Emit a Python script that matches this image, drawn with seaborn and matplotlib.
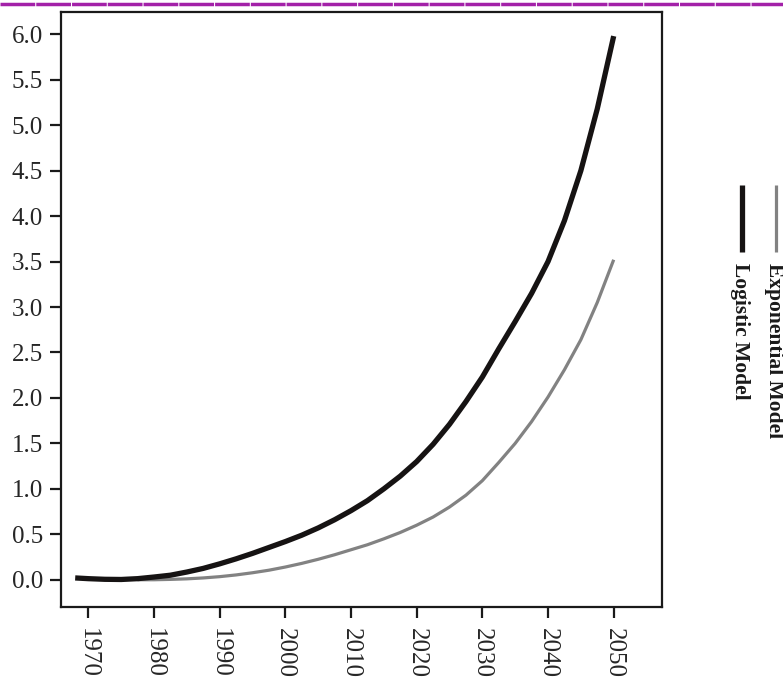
import pandas as pd
import matplotlib
matplotlib.use("Agg")
import matplotlib.pyplot as plt
from matplotlib.lines import Line2D
import seaborn as sns

# data (every 2.5 years)
years_logistic = [1968, 1970, 1972.5, 1975, 1977.5, 1980, 1982.5, 1985, 1987.5,
                  1990, 1992.5, 1995, 1997.5, 2000, 2002.5, 2005, 2007.5,
                  2010, 2012.5, 2015, 2017.5, 2020, 2022.5, 2025, 2027.5,
                  2030, 2032.5, 2035, 2037.5, 2040, 2042.5, 2045, 2047.5, 2050]
logistic = [0.020, 0.012, 0.005, 0.003, 0.012, 0.030, 0.050, 0.085, 0.125,
            0.175, 0.230, 0.290, 0.355, 0.420, 0.490, 0.570, 0.660,
            0.760, 0.870, 1.000, 1.140, 1.300, 1.490, 1.710, 1.960,
            2.230, 2.540, 2.840, 3.150, 3.500, 3.950, 4.500, 5.180, 5.980]

years_exponential = [1977.5, 1980, 1982.5, 1985, 1987.5, 1990, 1992.5, 1995,
                     1997.5, 2000, 2002.5, 2005, 2007.5, 2010, 2012.5, 2015,
                     2017.5, 2020, 2022.5, 2025, 2027.5, 2030, 2032.5, 2035,
                     2037.5, 2040, 2042.5, 2045, 2047.5, 2050]
exponential = [0.000, 0.000, 0.004, 0.010, 0.020, 0.034, 0.053, 0.077,
               0.105, 0.140, 0.180, 0.225, 0.275, 0.330, 0.385, 0.450,
               0.520, 0.600, 0.690, 0.800, 0.930, 1.090, 1.290, 1.500,
               1.740, 2.010, 2.310, 2.640, 3.050, 3.520]

model_names = ["Logistic Model", "Exponential Model"]
colors = {"Logistic Model": "#161313", "Exponential Model": "#828282"}
widths = {"Logistic Model": 3.8, "Exponential Model": 2.3}

x_ticks = list(range(1970, 2051, 10))
y_ticks = [i * 0.5 for i in range(13)]

df = pd.concat([
    pd.DataFrame({"year": years_logistic, "value": logistic, "model": model_names[0]}),
    pd.DataFrame({"year": years_exponential, "value": exponential, "model": model_names[1]}),
])

sns.set_style("ticks")
plt.rcParams["font.family"] = ["Liberation Serif", "DejaVu Serif"]

fig = plt.figure(figsize=(7.83, 6.79), dpi=100)
ax = fig.add_axes([0.078, 0.106, 0.767, 0.877])

# gray first so the black curve sits on top where they meet
for name in model_names[::-1]:
    sns.lineplot(data=df[df["model"] == name], x="year", y="value",
                 color=colors[name], linewidth=widths[name], ax=ax,
                 solid_capstyle="butt", legend=False)

ax.set_xlim(1965.85, 2057.3)
ax.set_ylim(-0.3, 6.25)
ax.set_xticks(x_ticks)
ax.set_yticks(y_ticks)
ax.set_yticklabels([f"{v:.1f}" for v in y_ticks], fontsize=18)
ax.set_xticklabels([str(v) for v in x_ticks], fontsize=18, rotation=-90)
ax.set_xlabel("")
ax.set_ylabel("")

for s in ax.spines.values():
    s.set_visible(True)
    s.set_linewidth(1.6)
    s.set_color("#1a1a1a")
ax.tick_params(direction="out", length=8, width=1.6, color="#1a1a1a", pad=5)
ax.tick_params(axis="x", pad=7)

# legend drawn vertically at the right
leg_x = [742 / 783, 776 / 783]
for name, lx in zip(model_names, leg_x):
    fig.add_artist(Line2D([lx, lx], [1 - 185 / 679, 1 - 252 / 679],
                          transform=fig.transFigure, color=colors[name],
                          linewidth=widths[name], solid_capstyle="butt"))
    fig.text(lx - 2 / 783, 1 - 263 / 679, name, rotation=-90, ha="center", va="top",
             fontsize=15.5, fontweight="bold", color="#1a1a1a")

# purple rule along the top edge
fig.add_artist(Line2D([0, 1], [0.994, 0.994], transform=fig.transFigure,
                      color="#a321a8", linewidth=2.5, dashes=(10, 0.3)))

fig.savefig("out.png", dpi=100)
